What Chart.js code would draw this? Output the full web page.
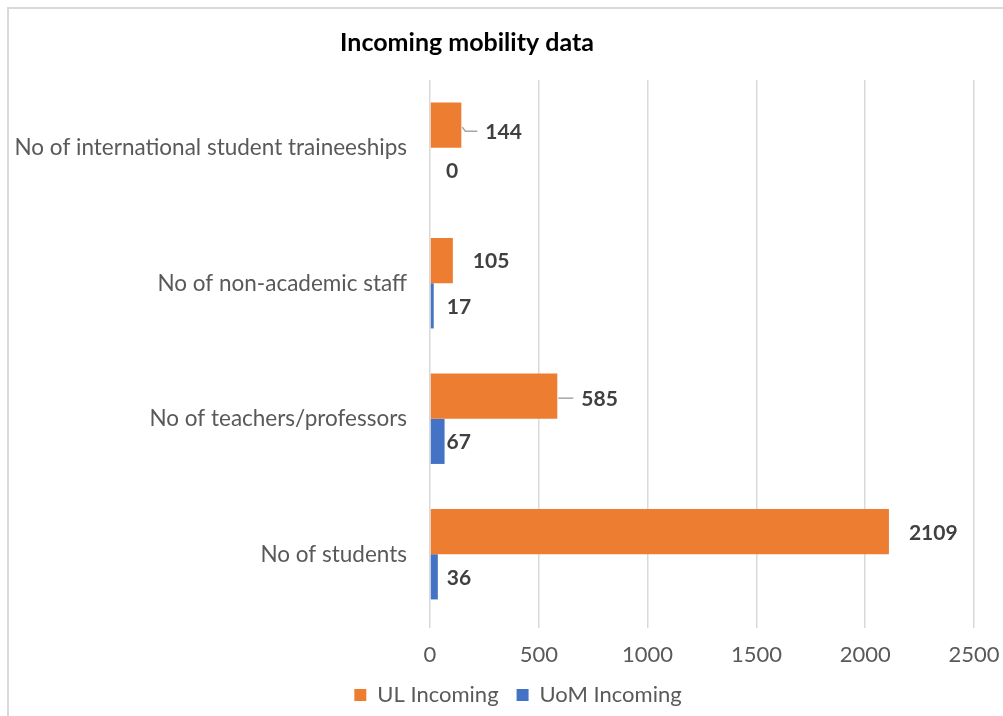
<!DOCTYPE html>
<html lang="en">

<head>
    <meta charset="UTF-8">
    <title>Incoming mobility data</title>
    <script src="https://cdn.jsdelivr.net/npm/chart.js"></script>
    <style>
        html, body { margin: 0; padding: 0; background: #fff; overflow: hidden; }
        .moldura { position: absolute; left: 7px; top: 7px; width: 1100px; height: 800px;
            border-left: 2px solid #d9d9d9; border-top: 2px solid #d9d9d9; }
        .grafico { position: absolute; left: 0; top: 0; width: 1003px; height: 716px; }
    </style>
</head>

<body>
    <div class="moldura"></div>
    <div class="grafico">
        <canvas id="graficoMobilidade"></canvas>
    </div>
</body>
<script>
    // dados (de cima para baixo)
    const categorias = ['No of international student traineeships', 'No of non-academic staff', 'No of teachers/professors', 'No of students']
    const ulIncoming = [144, 105, 585, 2109]
    const uomIncoming = [0, 17, 67, 36]
    const ticksX = [0, 500, 1000, 1500, 2000, 2500]

    const fonte = 'Lato, "Open Sans", sans-serif'

    // titulo desenhado a mao pra ficar no mesmo lugar do original
    const titulo = {
        id: 'titulo',
        afterDraw(chart) {
            const ctx = chart.ctx
            ctx.save()
            ctx.font = 'bold 25px ' + fonte
            ctx.fillStyle = '#000'
            ctx.textAlign = 'center'
            ctx.textBaseline = 'middle'
            ctx.fillText('Incoming mobility data', 467, 43)
            ctx.restore()
        }
    }

    // legenda um pouco mais para a direita, como no original
    const moverLegenda = {
        id: 'moverLegenda',
        afterLayout(chart) {
            chart.legend.left += 31
            chart.legend.right += 31
        }
    }

    // rotulos de valor ao lado das barras
    const rotulos = {
        id: 'rotulos',
        afterDatasetsDraw(chart, args, opts) {
            const ctx = chart.ctx
            ctx.save()
            ctx.font = 'bold 21px ' + fonte
            ctx.fillStyle = '#404040'
            ctx.textBaseline = 'middle'
            chart.data.datasets.forEach((ds, i) => {
                chart.getDatasetMeta(i).data.forEach((barra, j) => {
                    const x = barra.x + opts.deslocamento[i][j]
                    const y = barra.y + opts.subir[i][j]
                    if (opts.guias[i][j]) {
                        ctx.strokeStyle = '#a6a6a6'
                        ctx.lineWidth = 1.5
                        ctx.beginPath()
                        ctx.moveTo(barra.x + 1, barra.y + 2)
                        ctx.lineTo(barra.x + 4, y)
                        ctx.lineTo(x - 8, y)
                        ctx.stroke()
                    }
                    ctx.fillText(ds.data[j], x, y + 1)
                })
            })
            ctx.restore()
        }
    }

    const ctx = document.getElementById('graficoMobilidade').getContext('2d')
    const graficoMobilidade = new Chart(ctx, {
        type: 'bar',
        data: {
            labels: categorias,
            datasets: [{
                label: 'UL Incoming',
                data: ulIncoming,
                backgroundColor: '#ed7d31',
                categoryPercentage: 0.667,
                barPercentage: 1.0
            }, {
                label: 'UoM Incoming',
                data: uomIncoming,
                backgroundColor: '#4472c4',
                categoryPercentage: 0.667,
                barPercentage: 1.0
            }]
        },
        options: {
            indexAxis: 'y',
            responsive: true,
            maintainAspectRatio: false,
            animation: false,
            layout: {
                padding: { top: 80, right: 29, bottom: 0, left: 0 }
            },
            plugins: {
                legend: {
                    display: true,
                    position: 'bottom',
                    labels: {
                        boxWidth: 12,
                        boxHeight: 12,
                        padding: 18,
                        color: '#595959',
                        font: { family: fonte, size: 22 }
                    }
                },
                tooltip: { enabled: false },
                rotulos: {
                    deslocamento: [[24, 20, 24, 20], [16, 13, 2, 9]],
                    subir: [[6, 0, 2, 1], [0, 0, 0, 0]],
                    guias: [[true, false, true, false], [false, false, false, false]]
                }
            },
            scales: {
                x: {
                    min: ticksX[0],
                    max: ticksX[ticksX.length - 1],
                    afterFit(scale) {
                        scale.height = 44
                        scale.paddingLeft = 0
                        scale.paddingRight = 0
                    },
                    ticks: {
                        stepSize: ticksX[1] - ticksX[0],
                        color: '#595959',
                        padding: 16,
                        font: { family: fonte, size: 22, lineHeight: 1 },
                        callback: (v) => String(v)
                    },
                    grid: {
                        color: '#d9d9d9',
                        lineWidth: 1.5,
                        tickLength: 6
                    },
                    border: { display: false }
                },
                y: {
                    afterFit(scale) { scale.width = 430 },
                    ticks: {
                        color: '#595959',
                        padding: 23,
                        font: { family: fonte, size: 22.5 }
                    },
                    grid: { display: false, drawTicks: false },
                    border: { display: false }
                }
            }
        },
        plugins: [titulo, moverLegenda, rotulos]
    })
</script>

</html>
